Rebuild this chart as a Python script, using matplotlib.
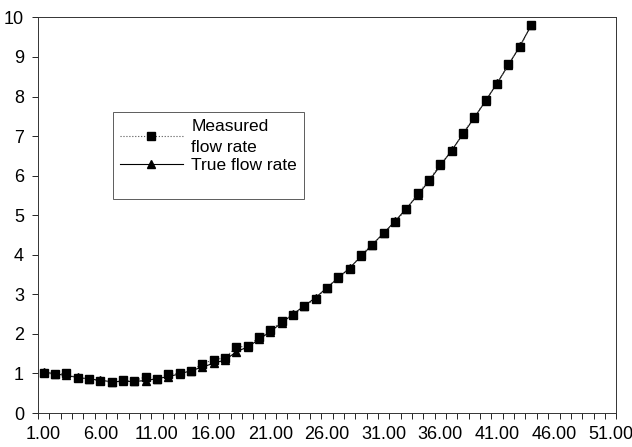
import numpy as np
import matplotlib
matplotlib.use("Agg")
import matplotlib.pyplot as plt
from matplotlib.ticker import FixedLocator, FuncFormatter
from matplotlib.lines import Line2D

plt.rcParams['font.family'] = ['Liberation Sans', 'DejaVu Sans']

# sample index
x = np.arange(1, 45)

# measured flow rate (squares, dotted)
measured = [1.01, 0.98, 1.00, 0.88, 0.87, 0.80, 0.79, 0.83, 0.81, 0.92,
            0.85, 0.98, 1.00, 1.07, 1.24, 1.35, 1.39, 1.67, 1.69, 1.91,
            2.09, 2.32, 2.48, 2.70, 2.89, 3.17, 3.43, 3.64, 4.00, 4.26,
            4.55, 4.82, 5.16, 5.55, 5.89, 6.30, 6.62, 7.09, 7.48, 7.91,
            8.32, 8.82, 9.25, 9.80]

# true flow rate (triangles, solid)
true_rate = [1.04, 0.99, 0.95, 0.90, 0.86, 0.83, 0.79, 0.80, 0.80, 0.82,
             0.87, 0.92, 0.99, 1.07, 1.16, 1.26, 1.34, 1.55, 1.67, 1.86,
             2.06, 2.28, 2.50, 2.71, 2.92, 3.17, 3.42, 3.67, 3.96, 4.26,
             4.55, 4.85, 5.17, 5.51, 5.87, 6.26, 6.64, 7.06, 7.47, 7.90,
             8.34, 8.80, 9.27, 9.80]

xticks = [1, 6, 11, 16, 21, 26, 31, 36, 41, 46, 51]

fig = plt.figure(figsize=(6.32, 4.47), dpi=100)
ax = fig.add_axes([0.060, 0.076, 0.915, 0.885])

ax.plot(x, true_rate, color='black', lw=0.8, ls='-', marker='^',
        markersize=5.5, label='True flow rate', zorder=2)
ax.plot(x, measured, color='#555555', lw=0.8, ls=':', marker='s',
        markersize=5.5, markerfacecolor='black', markeredgecolor='black',
        label='Measured\nflow rate', zorder=3)

ax.set_xlim(0.5, 51.5)
ax.set_ylim(0, 10)
ax.set_yticks(range(0, 11))
ax.xaxis.set_major_locator(FixedLocator(xticks))
ax.xaxis.set_major_formatter(FuncFormatter(lambda v, p: f"{v:.2f}"))
ax.xaxis.set_minor_locator(FixedLocator(np.arange(0.5, 52, 1.0)))
ax.tick_params(axis='x', which='major', length=0, pad=9, labelsize=13)
ax.tick_params(axis='x', which='minor', length=4, width=0.6, direction='out')
ax.tick_params(axis='y', length=4, width=0.6, direction='out', pad=6,
               labelsize=13)

for s in ax.spines.values():
    s.set_linewidth(0.7)
    s.set_color('#333333')

handles, labels = ax.get_legend_handles_labels()
blank = Line2D([], [], color='none')
leg = ax.legend(handles[::-1] + [blank], labels[::-1] + [''],
                loc='upper left', bbox_to_anchor=(0.13, 0.762),
                borderaxespad=0, fontsize=12.5, frameon=True,
                fancybox=False, edgecolor='#333333', borderpad=0.4,
                handlelength=3.6, labelspacing=0.2, handletextpad=0.5)
leg.get_frame().set_linewidth(0.7)
leg.get_texts()[0].set_linespacing(1.5)

fig.savefig('out.png', dpi=100)
